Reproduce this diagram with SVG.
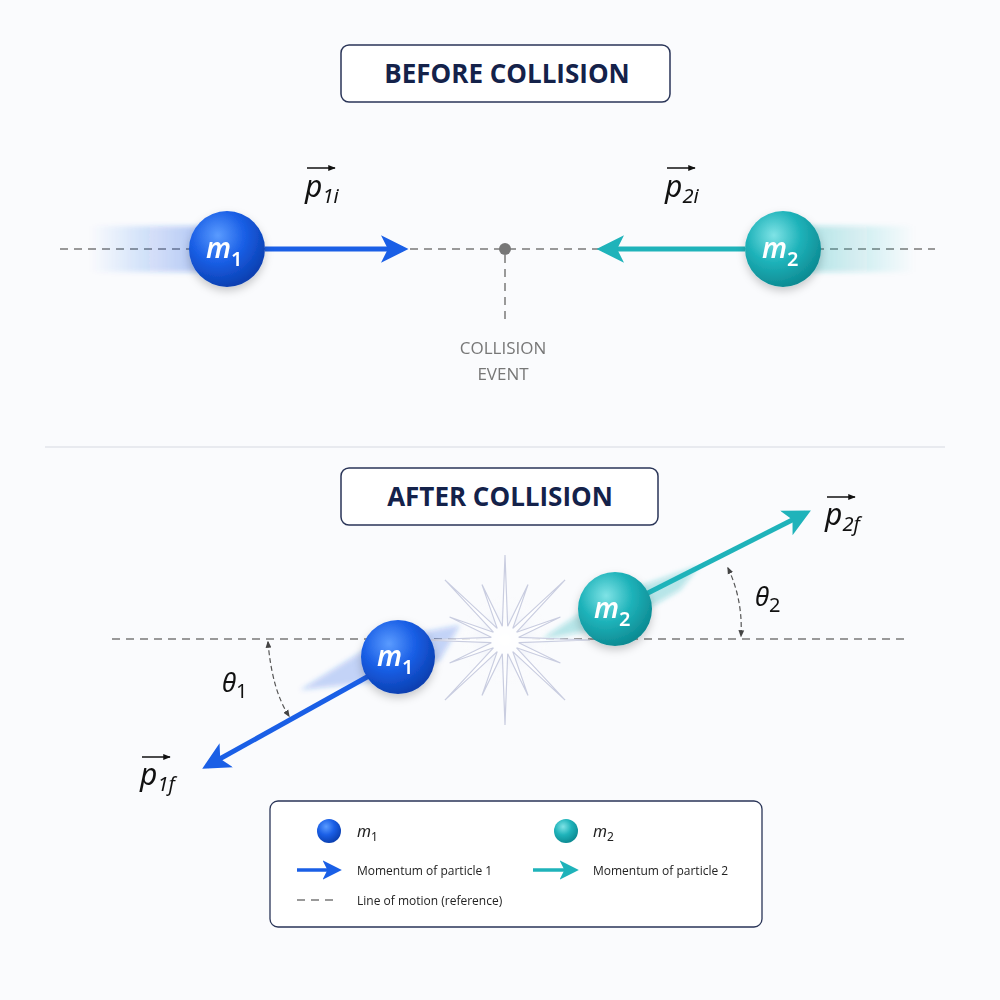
<svg xmlns="http://www.w3.org/2000/svg" width="1000" height="1000" viewBox="0 0 1000 1000">
<defs>
<style>
.title{font-family:"Open Sans","Liberation Sans",sans-serif;font-weight:700;font-size:26px;fill:#14224a;text-anchor:middle}
.box{fill:#fff;stroke:#2a3558;stroke-width:1.5}
.ref{stroke:#999;stroke-width:2;stroke-dasharray:8 6;fill:none}
.math{font-family:"Noto Sans","DejaVu Sans",sans-serif;font-style:italic;font-size:30px;fill:#111}
.sub{font-size:20px}
.ball{font-family:"Noto Sans","DejaVu Sans",sans-serif;font-style:italic;font-weight:600;font-size:28px;fill:#fff}
.lg{font-family:"Open Sans","Liberation Sans",sans-serif;font-size:12px;fill:#222}
.lgm{font-family:"Noto Sans","DejaVu Sans",sans-serif;font-size:16px;font-style:italic;fill:#222}
.lab{font-family:"Open Sans","Liberation Sans",sans-serif;font-size:17px;fill:#777;text-anchor:middle}
.ang{stroke:#555;stroke-width:1.2;stroke-dasharray:5 3;fill:none}
</style>
<radialGradient id="gb" cx="0.38" cy="0.32" r="0.7"><stop offset="0" stop-color="#5a9bff"/><stop offset="0.5" stop-color="#1a5fe6"/><stop offset="1" stop-color="#0a3fb0"/></radialGradient>
<radialGradient id="gc" cx="0.38" cy="0.32" r="0.7"><stop offset="0" stop-color="#7fe3e6"/><stop offset="0.5" stop-color="#1fb3ba"/><stop offset="1" stop-color="#0c8a92"/></radialGradient>
<radialGradient id="glow" cx="0.5" cy="0.5" r="0.5"><stop offset="0" stop-color="#fff"/><stop offset="0.5" stop-color="#f4f6fb"/><stop offset="1" stop-color="#fff" stop-opacity="0"/></radialGradient>
<linearGradient id="tb" x1="1" y1="0" x2="0" y2="0"><stop offset="0" stop-color="#1a5fe6" stop-opacity="0.7"/><stop offset="1" stop-color="#1a5fe6" stop-opacity="0"/></linearGradient>
<linearGradient id="tc" x1="0" y1="0" x2="1" y2="0"><stop offset="0" stop-color="#1fb3ba" stop-opacity="0.7"/><stop offset="1" stop-color="#1fb3ba" stop-opacity="0"/></linearGradient>
<filter id="blur" x="-20%" y="-50%" width="140%" height="200%"><feGaussianBlur stdDeviation="2.5"/></filter>
<filter id="sh" x="-50%" y="-50%" width="200%" height="200%"><feDropShadow dx="0" dy="4" stdDeviation="4" flood-color="#000" flood-opacity="0.2"/></filter>
<marker id="ab" viewBox="0 0 10 10" refX="8" refY="5" markerWidth="5.5" markerHeight="5.5" orient="auto"><path d="M0,0 L10,5 L0,10 L2.5,5 Z" fill="#1a5fe6"/></marker>
<marker id="ac" viewBox="0 0 10 10" refX="8" refY="5" markerWidth="5.5" markerHeight="5.5" orient="auto"><path d="M0,0 L10,5 L0,10 L2.5,5 Z" fill="#1fb3ba"/></marker>
<marker id="ak" viewBox="0 0 10 10" refX="8" refY="5" markerWidth="6" markerHeight="6" orient="auto-start-reverse"><path d="M0,1 L10,5 L0,9 Z" fill="#444"/></marker>
<marker id="vec" viewBox="0 0 10 10" refX="9" refY="5" markerWidth="5" markerHeight="5" orient="auto"><path d="M0,1 L10,5 L0,9 Z" fill="#111"/></marker>
</defs>
<rect width="1000" height="1000" fill="#fafbfd"/>

<g id="title-before"><rect class="box" x="341" y="45" width="329" height="57" rx="8"/><text class="title" x="507" y="83">BEFORE COLLISION</text></g>
<line x1="45" y1="447" x2="945" y2="447" stroke="#e2e4ea" stroke-width="1.5"/>
<g id="title-after"><rect class="box" x="341" y="468" width="317" height="57" rx="8"/><text class="title" x="500" y="506">AFTER COLLISION</text></g>

<g id="connectors">
<line class="ref" x1="60" y1="249" x2="935" y2="249"/>
<line class="ref" x1="505" y1="255" x2="505" y2="322"/>
<line class="ref" x1="112" y1="639" x2="905" y2="639"/>
<line x1="265" y1="249" x2="403" y2="249" stroke="#1a5fe6" stroke-width="5" marker-end="url(#ab)"/>
<line x1="745" y1="249" x2="602" y2="249" stroke="#1fb3ba" stroke-width="5" marker-end="url(#ac)"/>
<line x1="385" y1="667" x2="207" y2="766" stroke="#1a5fe6" stroke-width="5" marker-end="url(#ab)"/>
<line x1="640" y1="597" x2="806" y2="513" stroke="#1fb3ba" stroke-width="5" marker-end="url(#ac)"/>
<path class="ang" d="M268,642 Q272,690 289,716" marker-start="url(#ak)" marker-end="url(#ak)"/>
<path class="ang" d="M728,568 Q743,600 741,636" marker-start="url(#ak)" marker-end="url(#ak)"/>
</g>

<g id="trails" filter="url(#blur)">
<rect x="90" y="226" width="120" height="46" fill="url(#tb)" opacity="0.5"/>
<g stroke="url(#tb)" stroke-width="3"><line x1="95" y1="232" x2="210" y2="232"/><line x1="100" y1="244" x2="210" y2="244"/><line x1="92" y1="256" x2="210" y2="256"/><line x1="105" y1="267" x2="210" y2="267"/></g>
<rect x="800" y="226" width="115" height="46" fill="url(#tc)" opacity="0.5"/>
<g stroke="url(#tc)" stroke-width="3"><line x1="800" y1="232" x2="905" y2="232"/><line x1="800" y1="244" x2="910" y2="244"/><line x1="800" y1="256" x2="900" y2="256"/><line x1="800" y1="267" x2="895" y2="267"/></g>
<path d="M300,690 L380,640 L460,625 L440,660 L390,680 Z" fill="#1a5fe6" opacity="0.25"/>
<path d="M540,640 L600,600 L700,565 L680,590 L620,625 Z" fill="#1fb3ba" opacity="0.3"/>
</g>

<g id="starburst">
<circle cx="505" cy="640" r="45" fill="url(#glow)"/>
<polygon points="590,640 518.7,642.7 560.4,663 516.6,647.8 565.1,700.1 512.8,651.6 528,695.4 507.7,653.7 505,725 502.3,653.7 482,695.4 497.2,651.6 444.9,700.1 493.4,647.8 449.6,663 491.3,642.7 420,640 491.3,637.3 449.6,617 493.4,632.2 444.9,579.9 497.2,628.4 482,584.6 502.3,626.3 505,555 507.7,626.3 528,584.6 512.8,628.4 565.1,579.9 516.6,632.2 560.4,617 518.7,637.3" fill="#fff" fill-opacity="0.7" stroke="#c9cde0" stroke-width="1.2"/>
</g>

<g id="before-collision-point"><circle cx="505" cy="249" r="6" fill="#777"/><text class="lab" x="503" y="354">COLLISION</text><text class="lab" x="503" y="380">EVENT</text></g>

<g id="m1-before"><circle cx="227" cy="249" r="38" fill="url(#gb)" filter="url(#sh)"/><text class="ball" x="206" y="258">m<tspan class="sub" font-style="normal" dy="8">1</tspan></text></g>
<g id="m2-before"><circle cx="783" cy="249" r="38" fill="url(#gc)" filter="url(#sh)"/><text class="ball" x="762" y="258">m<tspan class="sub" font-style="normal" dy="8">2</tspan></text></g>
<g id="m1-after"><circle cx="398" cy="657" r="37" fill="url(#gb)" filter="url(#sh)"/><text class="ball" x="377" y="666">m<tspan class="sub" font-style="normal" dy="8">1</tspan></text></g>
<g id="m2-after"><circle cx="615" cy="609" r="37" fill="url(#gc)" filter="url(#sh)"/><text class="ball" x="594" y="618">m<tspan class="sub" font-style="normal" dy="8">2</tspan></text></g>

<g id="labels">
<line x1="307" y1="168" x2="335" y2="168" stroke="#111" stroke-width="1.5" marker-end="url(#vec)"/>
<text class="math" x="305" y="197">p<tspan class="sub" dy="6">1i</tspan></text>
<line x1="667" y1="168" x2="695" y2="168" stroke="#111" stroke-width="1.5" marker-end="url(#vec)"/>
<text class="math" x="665" y="197">p<tspan class="sub" dy="6">2i</tspan></text>
<line x1="827" y1="497" x2="855" y2="497" stroke="#111" stroke-width="1.5" marker-end="url(#vec)"/>
<text class="math" x="825" y="525">p<tspan class="sub" dy="6">2f</tspan></text>
<line x1="142" y1="757" x2="170" y2="757" stroke="#111" stroke-width="1.5" marker-end="url(#vec)"/>
<text class="math" x="140" y="785">p<tspan class="sub" dy="6">1f</tspan></text>
<text class="math" x="222" y="692" style="font-size:26px">θ<tspan class="sub" font-style="normal" dy="6">1</tspan></text>
<text class="math" x="755" y="606" style="font-size:26px">θ<tspan class="sub" font-style="normal" dy="6">2</tspan></text>
</g>

<g id="legend">
<rect x="270" y="801" width="492" height="126" rx="8" fill="#fff" stroke="#2a3558" stroke-width="1.3"/>
<circle cx="329" cy="831" r="12" fill="url(#gb)"/>
<text class="lgm" x="357" y="837">m<tspan style="font-size:12px;font-style:normal" dy="4">1</tspan></text>
<circle cx="566" cy="831" r="12" fill="url(#gc)"/>
<text class="lgm" x="593" y="837">m<tspan style="font-size:12px;font-style:normal" dy="4">2</tspan></text>
<line x1="297" y1="870" x2="338" y2="870" stroke="#1a5fe6" stroke-width="3.5" marker-end="url(#ab)"/>
<text class="lg" x="357" y="875">Momentum of particle 1</text>
<line x1="533" y1="870" x2="575" y2="870" stroke="#1fb3ba" stroke-width="3.5" marker-end="url(#ac)"/>
<text class="lg" x="593" y="875">Momentum of particle 2</text>
<line class="ref" x1="297" y1="900" x2="336" y2="900"/>
<text class="lg" x="357" y="905">Line of motion (reference)</text>
</g>
</svg>
